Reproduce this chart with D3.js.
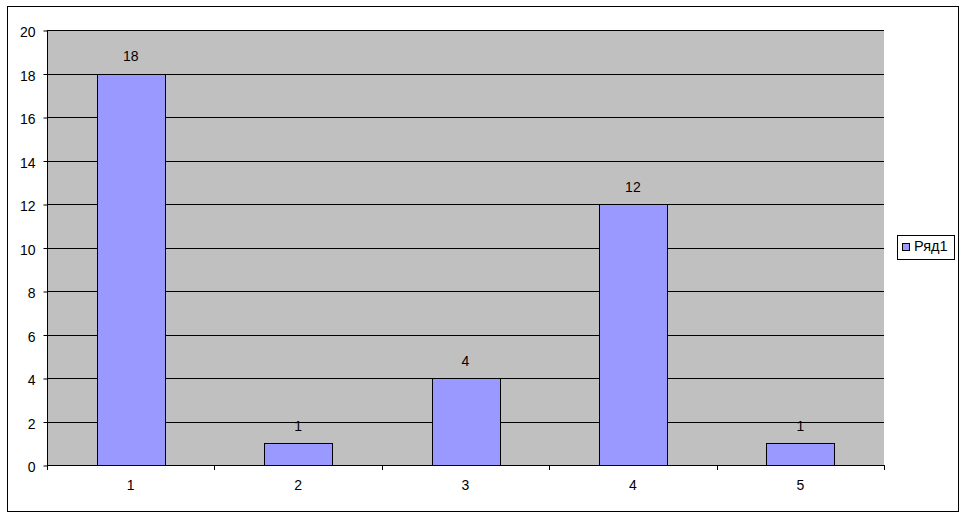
<!DOCTYPE html>
<html><head><meta charset="utf-8">
<script src="https://cdn.jsdelivr.net/npm/d3@7"></script>
<style>html,body{margin:0;padding:0;background:#fff;}svg{display:block;}</style>
</head><body>
<svg id="c" width="966" height="518"></svg>
<script>
const categories = ["1","2","3","4","5"];
const values = [18, 1, 4, 12, 1];
const seriesName = "Ряд1";
const yTicks = [0,2,4,6,8,10,12,14,16,18,20];

const svg = d3.select("#c");
const font = "'Liberation Sans', Arial, sans-serif";
const L = 47, T = 30, R = 884, B = 465;

svg.append("rect").attr("x",7.5).attr("y",6.5).attr("width",951).attr("height",505)
  .attr("fill","#fff").attr("stroke","#000").attr("stroke-width",1);

const x = d3.scaleBand().domain(categories).range([L, R]).paddingInner(0.594).paddingOuter(0.297);
const y = d3.scaleLinear().domain([0,20]).range([B, T]);

svg.append("rect").attr("x",L).attr("y",T).attr("width",R-L).attr("height",B-T).attr("fill","#C0C0C0");

svg.append("g").selectAll("line").data(yTicks.filter(d=>d>0)).join("line")
  .attr("x1",L).attr("x2",R).attr("y1",d=>Math.round(y(d))+0.5).attr("y2",d=>Math.round(y(d))+0.5)
  .attr("stroke","#000").attr("stroke-width",1);

svg.append("g").selectAll("rect").data(values).join("rect")
  .attr("x",(d,i)=>Math.round(x(categories[i]))+0.5)
  .attr("y",d=>Math.round(y(d))+0.5)
  .attr("width",Math.round(x.bandwidth()))
  .attr("height",d=>Math.round(y(0))-Math.round(y(d)))
  .attr("fill","#9999FF").attr("stroke","#000").attr("stroke-width",1);

svg.append("g").selectAll("text").data(values).join("text")
  .attr("x",(d,i)=>x(categories[i])+x.bandwidth()/2)
  .attr("y",d=>y(d)-12.5)
  .attr("text-anchor","middle").attr("font-family",font).attr("font-size",14).attr("fill","#000")
  .text(d=>d);

const yAxis = d3.axisLeft(y).tickValues(yTicks).tickSize(4).tickPadding(8);
const gy = svg.append("g").attr("transform",`translate(${L+0.5},0.5)`).call(yAxis);
gy.selectAll("text").attr("font-family",font).attr("font-size",14).attr("fill","#000").attr("dy","0.45em");
gy.selectAll("line").attr("stroke","#000");
gy.select(".domain").attr("stroke","#000").attr("d",`M0,${T}V${B}`);

const xb = d3.scaleLinear().domain([0,5]).range([L,R]);
const bounds = d3.range(0,6);
svg.append("line").attr("x1",L).attr("x2",R+0.5).attr("y1",B+0.5).attr("y2",B+0.5).attr("stroke","#000");
svg.append("g").selectAll("line").data(bounds).join("line")
  .attr("x1",d=>Math.round(xb(d))+0.5).attr("x2",d=>Math.round(xb(d))+0.5)
  .attr("y1",B).attr("y2",B+5).attr("stroke","#000");
svg.append("g").selectAll("text").data(categories).join("text")
  .attr("x",d=>x(d)+x.bandwidth()/2).attr("y",B+25)
  .attr("text-anchor","middle").attr("font-family",font).attr("font-size",14).attr("fill","#000")
  .text(d=>d);

const lg = svg.append("g");
lg.append("rect").attr("x",897.5).attr("y",235.5).attr("width",57).attr("height",24)
  .attr("fill","#fff").attr("stroke","#000");
lg.append("rect").attr("x",902.5).attr("y",243.5).attr("width",7).attr("height",7)
  .attr("fill","#9999FF").attr("stroke","#000");
lg.append("text").attr("x",914).attr("y",251).attr("font-family",font).attr("font-size",14.5)
  .attr("fill","#000").text(seriesName);
</script>
</body></html>
